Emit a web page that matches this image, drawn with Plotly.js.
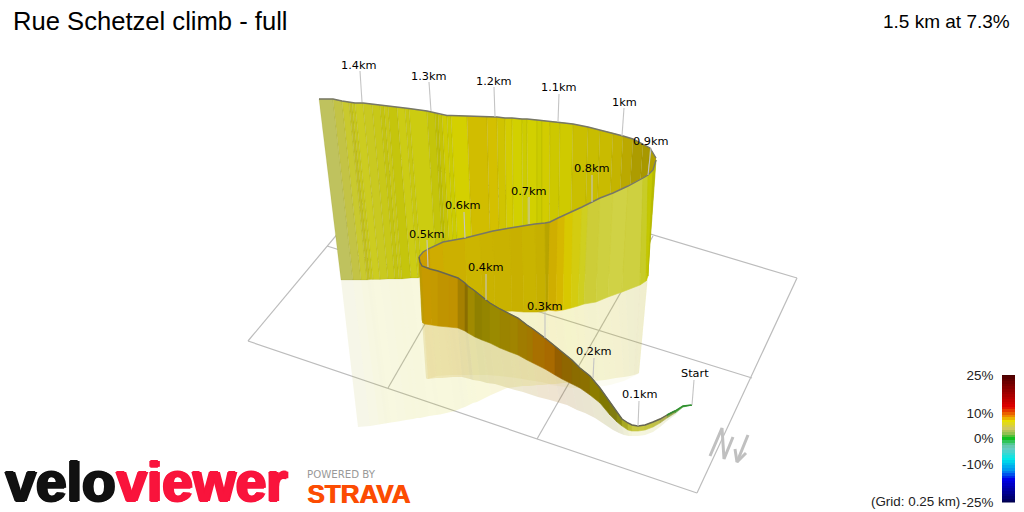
<!DOCTYPE html>
<html><head><meta charset="utf-8">
<script src="https://cdn.plot.ly/plotly-3.0.1.min.js"></script>
<style>html,body{margin:0;padding:0;background:#fff}#c{width:1024px;height:512px}</style>
</head><body><div id="c"></div>
<script>
// far wall, 1.5 km (left) round to 0.9 km (right)
const farTopX=[319,333,342,349,352,355,363,372,380,384,388,397,405,409,427,435,438,442,447,451,467,487,497,505,512,522,527,537,542,550,560,573,588,600,613,623,633,643,650,656];
const farTopY=[99,99,101,102,102.5,103,103,104,105,105.5,106,107,108,108.5,111,113,114,115,115.5,115.5,116,117,117,118,118,119,119,120,120.5,121.5,122,124,127,130,133,136,139,144,148,158];
const farBaseX=[341,353,361,367,370,373,380,388,395,399,402,411,418,422,437,444,447,451,455,459,473,491,500,507,514,523,528,537,542,549,558,570,584,595,607,616,625,634,641,648];
const farBaseY=[280,280,280,280,279.5,279.5,279.5,279,279,279,279,278,278,277,277,276,276,276,276,276,275,275,275,275,275,275,275,274,274,274,274,274,274,274,274,273,273,273,273,273];
const farMirrorX=[358,370,379,385,388,391,398,406,413,417,420,429,436,440,455,462,465,469,473,477,491,507,516,523,530,538,543,551,556,563,571,582,595,605,616,624,630,634,637,639];
const farMirrorY=[427,426,424.5,423.5,423,422.5,421.5,420,419,418,418,416,415,414.5,411,408,407,405,403,402,395,388,387,386,386,385,385,384,384,383,383,382,381,380,378,377,376,375,374,373];
const farColors=['#bfc25e','#c3c345','#c9c92e','#c2c01f','#c8c81a','#cccc20','#c9c920','#c8c818','#c4c410','#c9c815','#c5c50c','#cccc14','#c8c80f','#cccc10','#c4c40a','#bebe05','#c6c405','#cfcc03','#cccc00','#d4d000','#d1bd00','#d4c000','#d0c400','#d4cc00','#d2d000','#cdcc00','#d2d000','#cccc00','#d2cc00','#cdc800','#cfca00','#cabf00','#c8bd00','#c9bb00','#c4b400','#bba900','#ad9c00','#a89800','#b0a000'];

// middle wall, 0.5 km (left) to 0.9 km (right)
const midTopX=[419,423,430,443,465,480,493,510,522,535,545,550,558,565,573,582,588,600,613,628,643,648,653,656];
const midTopY=[257,252,248,242,238,234,231,228,226,224,223,222,218,215,211,207,204,198,193,186,178,175,170,160];
const midBaseX=[424,427,433,446,468,483,495,512,524,537,546,548,556,563,571,578,584,596,608,622,640,646,648,648];
const midBaseY=[322,320,318,316,314,313,312,311,312,312,311,310,311,310,308,306,304,302,297,292,285,281,276,272];
const midMirrorX=[428,431,437,450,472,487,499,516,528,541,549,551,558,565,573,580,586,598,610,624,634,638,639,639];
const midMirrorY=[379,378,376,375,375,375,376,378,380,382,384,385,386,387,388,388,388,387,385,381,376,374,373,373];
const midColors=['#cc9e00','#cc9e00','#cfac00','#ccb000','#ccb500','#cab300','#c9b200','#c8b000','#c9b400','#c6b000','#b8a400','#cfae00','#d6b800','#d8c800','#d4cc10','#cfcf20','#cdcd38','#ced040','#d0d245','#ced040','#c8cc28','#c4c800','#b8bc00'];

// front wall, 0.5 km (left) down to Start (right)
const nearTopX=[419,420,422,430,438,449,458,465,468,475,482,490,500,510,518,527,533,545,555,562,572,580,590,600,610,617,622,628,632,638,645,653,660,667,675,683,692];
const nearTopY=[257,262,266,269,271,275,278,283,286,291,297,303,309,314,318,325,329,338,346,352,360,368,376,388,402,412,419,423,425,426,425,422,419,415,411,406,405];
const nearBaseX=[422,423,425,432,438,449,458,465,468,475,482,490,500,510,518,527,533,545,555,562,572,580,590,600,610,617,622,628,632,638,645,653,660,667,675,683,692];
const nearBaseY=[320,323,324,325,326,327,328,331,333,337,340,343,348,352,355,360,363,369,375,379,384,388,395,403,415,422,426,430,431,431,430,427,423,418,413,407,405];
const nearMirrorX=[426,427,428,436,442,453,462,470,473,480,487,495,505,515,523,532,538,550,560,567,577,585,595,604,613,619,624,629,632,638,645,653,660,667,675,683,692];
const nearMirrorY=[378,379,379,378,378,377,377,379,380,381,383,384,387,390,392,395,397,400,403,405,410,413,418,424,430,433,435,436,436,436,435,432,427,421,415,407,405];
const nearColors=['#b89800','#c09a00','#c79a00','#c49a00','#c09400','#c09200','#a58000','#8a6e00','#a08a00','#8f8000','#948500','#9a8a00','#9b8400','#a08400','#a07c00','#a27800','#a87000','#a86a00','#955f00','#8f6600','#8b6c00','#8c7000','#8c7c00','#7f7800','#807c10','#8c8c10','#a8a820','#bcbc30','#c8c840','#c8c840','#c4c440','#c0c04a','#b0b050','#90a848','#50a038','#30a030'];

// distance markers
const markLabels=['Start','0.1km','0.2km','0.3km','0.4km','0.5km','0.6km','0.7km','0.8km','0.9km','1km','1.1km','1.2km','1.3km','1.4km'];
const markLabelX=[695,640,594,545,486,427,463,529,592,651,624,559,494,429,359];
const markLabelY=[373,394,351,306,267,234,205,191,168,141,102,87,81,76,65];
const markTipX=[692,638,593,545,486,428,465,529,592,648,622,558,495,431,362];
const markTipY=[405,426,378,338,300,267,238,224,202,175,136,122,117,111,102];
const markTailX=[694,639,594,545,486,427,464,529,592,651,624,559,494,429,360];
const markTailY=[380,401,358,312,274,240,212,197,175,148,108,94,87,82,71];

// ground grid
const gridStartX=[248,697,797,248,327,388,537];
const gridStartY=[341,493,278,341,246,388,439];
const gridEndX=[697,797,400,400,752,505,653];
const gridEndY=[493,278,159,159,378,185,236];

// north marker
const northX=[710,722,724,733];
const northY=[456,428,459,437];
const arrowX=[748,737,null,735,737,746];
const arrowY=[435,462,null,449,462,453];

// gradient legend
const legendGrades=[-25,-24,-23,-22,-21,-20,-19,-18,-17,-16,-15,-14,-13,-12,-11,-10,-9,-8,-7,-6,-5,-4,-3,-2,-1,0,1,2,3,4,5,6,7,8,9,10,11,12,13,14,15,16,17,18,19,20,21,22,23,24,25];
const legendTicks=[-25,-10,0,10,25];
const legendTickText=['-25%','-10%','0%','10%','25%'];
const legendScale=[[0,'#000050'],[0.18,'#0000e8'],[0.25,'#0090f0'],[0.34,'#00e8e8'],[0.43,'#70c8c0'],[0.46,'#50c890'],[0.5,'#10c020'],[0.54,'#90c050'],[0.58,'#d0c860'],[0.64,'#e8e000'],[0.68,'#ee8800'],[0.75,'#e00000'],[1,'#4a0000']];

const ink='#000';
const traces=[];
function line(x,y,color,width,extra){traces.push(Object.assign({type:'scatter',mode:'lines',x,y,hoverinfo:'skip',line:{color,width}},extra||{}));}
function ribbon(tx,ty,bx,by,colors,opacity,seam){
  for(let i=0;i<colors.length;i++){
    traces.push({type:'scatter',mode:'lines',hoverinfo:'skip',fill:'toself',fillcolor:colors[i],opacity:opacity,
      x:[tx[i],tx[i+1],bx[i+1],bx[i],tx[i]],y:[ty[i],ty[i+1],by[i+1],by[i],ty[i]],
      line:{color:seam||colors[i],width:opacity<1?0:0.6}});
  }
}
for(let i=0;i<gridStartX.length;i++) line([gridStartX[i],gridEndX[i]],[gridStartY[i],gridEndY[i]],'#bcbcbc',1.2);
line(northX,northY,'#c0c0c0',3);
line(arrowX,arrowY,'#c0c0c0',3);
ribbon(farBaseX,farBaseY,farMirrorX,farMirrorY,farColors,0.14);
ribbon(midBaseX,midBaseY,midMirrorX,midMirrorY,midColors,0.07);
ribbon(nearBaseX,nearBaseY,nearMirrorX,nearMirrorY,nearColors,0.18);
ribbon(farTopX,farTopY,farBaseX,farBaseY,farColors,1,'rgba(130,130,0,0.22)');
ribbon(midTopX,midTopY,midBaseX,midBaseY,midColors,1);
ribbon(nearTopX,nearTopY,nearBaseX,nearBaseY,nearColors,1);
line(farTopX,farTopY,'#777766',1.4);
line(midTopX,midTopY,'#777766',1.4);
line(nearTopX.slice(0,35),nearTopY.slice(0,35),'#666655',1.4);
line(nearTopX.slice(33),nearTopY.slice(33),'#2f8f2f',1.4);
for(let i=0;i<markLabels.length;i++) line([markTailX[i],markTipX[i]],[markTailY[i],markTipY[i]],'#c4c4c4',1.1);

traces.push({type:'heatmap',xaxis:'x2',yaxis:'y2',x:[0,1],y:legendGrades,z:legendGrades.map(g=>[g,g]),
  zmin:-25,zmax:25,colorscale:legendScale,showscale:false,hoverinfo:'skip'});

const annotations=markLabels.map((t,i)=>({xref:'x',yref:'y',x:markLabelX[i],y:markLabelY[i],text:t,showarrow:false,
  xanchor:'center',yanchor:'middle',font:{family:'DejaVu Sans',size:11.3,color:ink}}));
function label(text,x,y,anchor,font){annotations.push({xref:'x',yref:'y',x,y,text,showarrow:false,xanchor:anchor,yanchor:'middle',font});}
const heavy=c=>`1px 0 0 ${c},-1px 0 0 ${c},2px 0 0 ${c},0 1px 0 ${c},0 -1px 0 ${c}`;
label('1.5 km at 7.3%',1012,21,'right',{family:'Liberation Sans',size:19,color:ink});
label('(Grid: 0.25 km)',962,501,'right',{family:'Liberation Sans',size:13.4,color:'#222'});
label('velo',3,482,'left',{family:'Liberation Sans',size:55,weight:700,color:'#111',shadow:heavy('#111')});
label('viewer',114,482,'left',{family:'Liberation Sans',size:55,weight:700,color:'#f9143c',shadow:heavy('#f9143c')});
label('POWERED BY',305,474,'left',{family:'DejaVu Sans',size:10.2,color:'#999'});
label('STRAVA',305,494,'left',{family:'Liberation Sans',size:26,weight:700,color:'#fc4c02',shadow:'1px 0 0 #fc4c02'});

const layout={width:1024,height:512,margin:{l:0,r:0,t:0,b:0},paper_bgcolor:'#fff',plot_bgcolor:'#fff',showlegend:false,
  title:{text:'Rue Schetzel climb - full',x:13/1024,xanchor:'left',y:1-21/512,yanchor:'middle',font:{family:'Liberation Sans',size:25.6,color:ink}},
  xaxis:{range:[0,1024],visible:false,fixedrange:true,domain:[0,1]},
  yaxis:{range:[512,0],visible:false,fixedrange:true,domain:[0,1]},
  xaxis2:{domain:[1002/1024,1015/1024],range:[0,1],visible:false,anchor:'y2',fixedrange:true},
  yaxis2:{domain:[9.5/512,137/512],range:[-25,25],anchor:'x2',side:'left',showgrid:false,zeroline:false,showline:false,ticks:'outside',ticklen:5,tickcolor:'rgba(0,0,0,0)',
    tickmode:'array',tickvals:legendTicks,ticktext:legendTickText,tickfont:{family:'Liberation Sans',size:13.4,color:'#222'},fixedrange:true,automargin:false},
  annotations};
Plotly.newPlot('c',traces,layout,{displayModeBar:false,staticPlot:true});
</script></body></html>
